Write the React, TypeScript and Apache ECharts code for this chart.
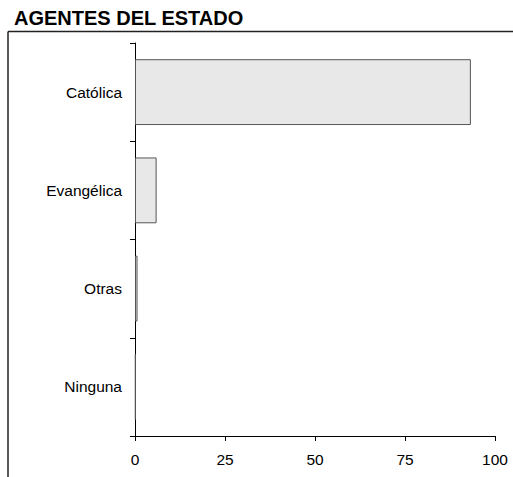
import React, { useEffect, useRef } from "react";
import * as echarts from "echarts";

const title = "AGENTES DEL ESTADO";
const categories = ["Católica", "Evangélica", "Otras", "Ninguna"];
const values = [93.3, 6.0, 0.7, 0.2];
const xTicks = [0, 25, 50, 75, 100];

const FONT = "Liberation Sans, Arial, sans-serif";

export default function App() {
  const ref = useRef<HTMLDivElement>(null);
  useEffect(() => {
    if (!ref.current) return;
    const chart = echarts.init(ref.current, undefined, { renderer: "svg" });
    chart.setOption({
      animation: false,
      backgroundColor: "#ffffff",
      textStyle: { fontFamily: FONT },
      title: {
        text: title,
        left: 14,
        top: 8,
        padding: 0,
        textStyle: { fontSize: 20, fontWeight: "bold", color: "#000", fontFamily: FONT },
      },
      graphic: [
        { type: "line", shape: { x1: 8, y1: 31.5, x2: 513, y2: 31.5 }, style: { stroke: "#222", lineWidth: 1.5 } },
        { type: "line", shape: { x1: 8, y1: 31.5, x2: 8, y2: 477 }, style: { stroke: "#222", lineWidth: 1.5 } },
      ],
      grid: { left: 135, right: 18, top: 43, bottom: 41, containLabel: false },
      xAxis: {
        type: "value",
        min: xTicks[0],
        max: xTicks[xTicks.length - 1],
        interval: 25,
        splitLine: { show: false },
        axisLine: { show: true, lineStyle: { color: "#000", width: 1 } },
        axisTick: { show: true, length: 5, lineStyle: { color: "#000" } },
        axisLabel: { color: "#000", fontSize: 15.5, margin: 15, fontFamily: FONT },
      },
      yAxis: {
        type: "category",
        data: categories,
        inverse: true,
        axisLine: { show: true, lineStyle: { color: "#000", width: 1 } },
        axisTick: { show: true, length: 5, lineStyle: { color: "#000" } },
        axisLabel: { color: "#000", fontSize: 15.5, margin: 13, fontFamily: FONT },
      },
      series: [
        {
          type: "bar",
          data: values,
          barWidth: "67%",
          itemStyle: { color: "#e8e8e8", borderColor: "#555", borderWidth: 1 },
        },
      ],
    });
    return () => chart.dispose();
  }, []);
  return <div ref={ref} style={{ width: 513, height: 477, position: "absolute", left: 0, top: 0 }} />;
}
